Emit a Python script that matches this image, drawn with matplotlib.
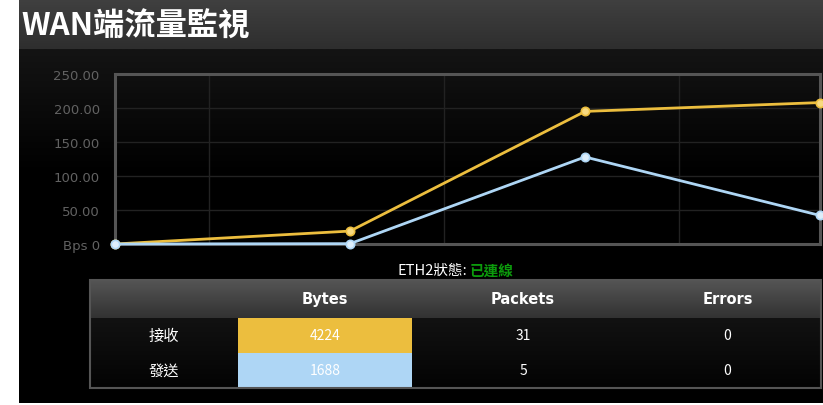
import numpy as np
import matplotlib
matplotlib.use("Agg")
import matplotlib.pyplot as plt
from matplotlib.patches import Rectangle
from matplotlib.colors import LinearSegmentedColormap

plt.rcParams['font.family'] = ['Noto Sans CJK TC', 'DejaVu Sans']

# ---- data ----
title = "WAN端流量監視"
x_points = [0, 1, 2, 3]
rx_values = [0, 19, 195, 208]      # 接收 (yellow)
tx_values = [0, 0.5, 128, 42]      # 發送 (blue)
y_ticks = [0, 50, 100, 150, 200, 250]
y_tick_labels = ["Bps 0", "50.00", "100.00", "150.00", "200.00", "250.00"]
status_label = "ETH2狀態:"
status_value = "已連線"
table_headers = ["", "Bytes", "Packets", "Errors"]
row_labels = ["接收", "發送"]
bytes_vals = [4224, 1688]
packets_vals = [31, 5]
errors_vals = [0, 0]

YELLOW = "#ECBE3E"
BLUE = "#AED6F5"

W, H = 823, 406
fig = plt.figure(figsize=(W / 100, H / 100), dpi=100)
fig.patch.set_facecolor("white")

# background axes in pixel coordinates
bg = fig.add_axes([0, 0, 1, 1])
bg.set_xlim(0, W)
bg.set_ylim(H, 0)
bg.axis("off")
bg.set_zorder(0)


def vgrad(ax, x0, x1, y0, y1, c_top, c_bot, stop=1.0):
    cmap = LinearSegmentedColormap.from_list("g", [(0, c_top), (stop, c_bot), (1, c_bot)])
    grad = np.linspace(0, 1, 256).reshape(-1, 1)
    ax.imshow(grad, cmap=cmap, extent=[x0, x1, y1, y0], aspect="auto",
              interpolation="bilinear", zorder=1)


# title bar and body
vgrad(bg, 19, W, 0, 50, "#404040", "#2e2e2e")
vgrad(bg, 19, W, 50, 404, "#141414", "#000000", stop=0.35)
bg.text(21, 27, title, color="white", fontsize=22.5, fontweight="bold",
        va="center", ha="left", zorder=3)

# status line
bg.text(467, 271, status_label, color="white", fontsize=10.5, ha="right", va="center", zorder=3)
bg.text(470, 271, status_value, color="#0c9a0c", fontsize=10.5, fontweight="bold",
        ha="left", va="center", zorder=3)

# table
tx0, tx1 = 90, 821
ty0, th_bot = 281, 319
row_h = 35
col_edges = [90, 238, 412, 634, 821]
vgrad(bg, tx0, tx1, ty0, th_bot, "#555555", "#323232")
vgrad(bg, tx0, tx1, th_bot, th_bot + 2 * row_h, "#121212", "#030303")
for j, hdr in enumerate(table_headers):
    cx = (col_edges[j] + col_edges[j + 1]) / 2
    bg.text(cx, (ty0 + th_bot) / 2, hdr, color="white", fontsize=10.5, fontweight="bold",
            ha="center", va="center", family="DejaVu Sans", zorder=3)
cell_colors = [YELLOW, BLUE]
for i in range(len(row_labels)):
    yc = th_bot + row_h * (i + 0.5)
    bg.add_patch(Rectangle((col_edges[1], th_bot + row_h * i), col_edges[2] - col_edges[1],
                           row_h, facecolor=cell_colors[i], edgecolor="none", zorder=2))
    vals = [row_labels[i], str(bytes_vals[i]), str(packets_vals[i]), str(errors_vals[i])]
    for j, v in enumerate(vals):
        cx = (col_edges[j] + col_edges[j + 1]) / 2
        fs = 11 if j == 0 else 10
        bg.text(cx, yc, v, color="white", fontsize=fs, ha="center", va="center", zorder=3)
bg.add_patch(Rectangle((tx0, ty0), tx1 - tx0, th_bot + 2 * row_h - ty0, facecolor="none",
                       edgecolor="#555555", linewidth=1.5, zorder=4))

# chart axes
L, R, T, B = 115, 820, 75, 245
ax = fig.add_axes([L / W, (H - B) / H, (R - L) / W, (B - T) / H])
ax.set_zorder(2)
ax.patch.set_alpha(0)
ax.set_xlim(0, 3)
ax.set_ylim(0, 250)
ax.set_yticks(y_ticks)
ax.set_yticklabels(y_tick_labels, family="DejaVu Sans")
ax.set_xticks([0.4, 1.4, 2.4])
ax.set_xticklabels([])
ax.tick_params(length=0, colors="#626262", labelsize=9.5, pad=11)
ax.grid(True, color="#222222", linewidth=1)
for s in ax.spines.values():
    s.set_color("#555555")
    s.set_linewidth(2.2)

for vals, col, light in [(rx_values, YELLOW, "#F8DA80"), (tx_values, BLUE, "#DDEEFB")]:
    ax.plot(x_points, vals, color=col, linewidth=2.0, marker="o", markersize=6,
            markerfacecolor=light, markeredgecolor=col, markeredgewidth=1.2,
            clip_on=False, zorder=5)

fig.savefig("out.png", dpi=100, facecolor=fig.get_facecolor())
